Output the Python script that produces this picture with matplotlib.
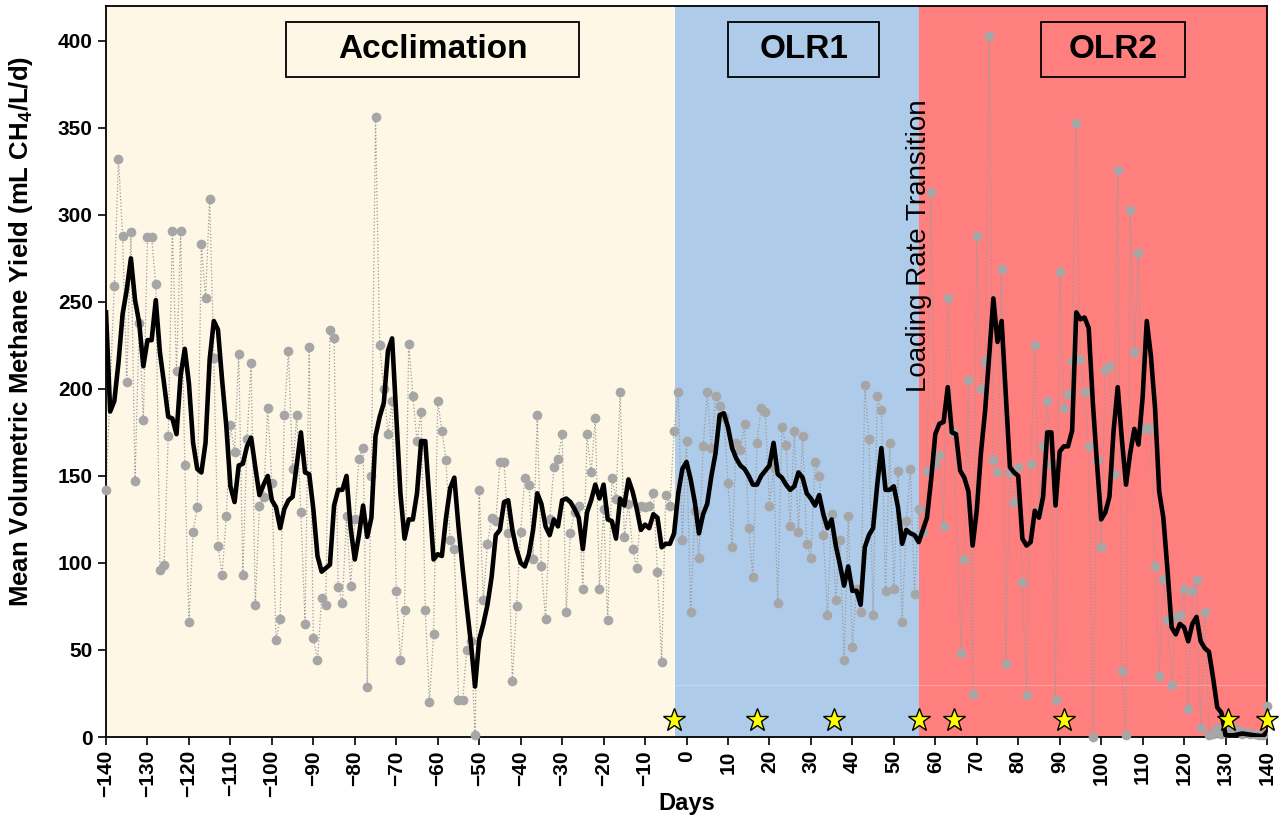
import numpy as np
import matplotlib.pyplot as plt
from matplotlib.patches import Rectangle

plt.rcParams.update({'font.family': 'Liberation Sans',
                     'font.weight': 'bold',
                     'mathtext.fontset': 'custom',
                     'mathtext.rm': 'Liberation Sans:bold',
                     'mathtext.bf': 'Liberation Sans:bold'})

# daily yield (grey points)
days = [-140, -138, -137, -136, -135, -134, -133, -132, -131, -130, -129, -128, -127, -126,
        -125, -124, -123, -122, -121, -120, -119, -118, -117, -116, -115, -114, -113, -112,
        -111, -110, -109, -108, -107, -106, -105, -104, -103, -102, -101, -100, -99, -98,
        -97, -96, -95, -94, -93, -92, -91, -90, -89, -88, -87, -86, -85, -84, -83, -82,
        -81, -80, -79, -78, -77, -76, -75, -74, -73, -72, -71, -70, -69, -68, -67, -66,
        -65, -64, -63, -62, -61, -60, -59, -58, -57, -56, -55, -54, -53, -52, -51, -50,
        -49, -48, -47, -46, -45, -44, -43, -42, -41, -40, -39, -38, -37, -36, -35, -34,
        -33, -32, -31, -30, -29, -28, -27, -26, -25, -24, -23, -22, -21, -20, -19, -18,
        -17, -16, -15, -14, -13, -12, -11, -10, -9, -8, -7, -6, -5, -4, -3, -2, -1, 0,
        1, 2, 3, 4, 5, 6, 7, 8, 9, 10, 11, 12, 13, 14, 15, 16, 17, 18, 19, 20, 21, 22,
        23, 24, 25, 26, 27, 28, 29, 30, 31, 32, 33, 34, 35, 36, 37, 38, 39, 40, 41, 42,
        43, 44, 45, 46, 47, 48, 49, 50, 51, 52, 53, 54, 55, 56, 57, 58, 59, 60, 61, 62,
        63, 64.3, 66.3, 67, 68, 69, 70, 71, 72, 73, 74, 75, 76, 77, 78, 79, 80, 81, 82,
        83, 84, 85, 86, 87, 88, 89, 90, 91, 92, 93, 94, 95, 96, 97, 98, 99, 100, 101,
        102, 103, 104, 105, 106, 107, 108, 109, 110, 111, 112, 113, 114, 115, 116, 117,
        118, 119, 120, 121, 122, 123, 124, 125, 126, 127, 128, 129, 130, 131, 132, 133,
        134, 135, 136, 137, 138, 139, 140]
yield_daily = [142, 259, 332, 288, 204, 290, 147, 238, 182, 287, 287, 260, 96, 99,
               173, 291, 210, 291, 156, 66, 118, 132, 283, 252, 309, 218, 110, 93,
               127, 179, 164, 220, 93, 171, 215, 76, 133, 138, 189, 146, 56, 68,
               185, 222, 154, 185, 129, 65, 224, 57, 44, 80, 76, 234, 229, 86, 77, 127,
               87, 125, 160, 166, 29, 150, 356, 225, 200, 174, 193, 84, 44, 73, 226, 196,
               170, 187, 73, 20, 59, 193, 176, 159, 113, 108, 21, 21, 50, 55, 1, 142,
               79, 111, 126, 124, 158, 158, 117, 32, 75, 118, 149, 145, 102, 185, 98, 68,
               125, 155, 160, 174, 72, 117, 129, 133, 85, 174, 152, 183, 85, 131, 67, 149,
               137, 198, 115, 134, 108, 97, 133, 132, 133, 140, 95, 43, 139, 133, 176, 198, 113, 170,
               72, 130, 103, 167, 198, 166, 196, 190, 184, 146, 109, 169, 165, 180, 120, 92, 169, 189, 187, 133, 155, 77,
               178, 168, 121, 176, 118, 173, 111, 103, 158, 150, 116, 70, 128, 79, 113, 44, 127, 52, 85, 72,
               202, 171, 70, 196, 188, 84, 169, 85, 153, 66, 124, 154, 82, 131, 118, 153, 313, 157, 162, 121,
               252, 175, 48, 102, 205, 25, 288, 200, 216, 403, 159, 152, 269, 42, 152, 135, 155, 89, 24,
               157, 225, 130, 167, 193, 157, 21, 267, 189, 197, 216, 353, 217, 198, 167, 0, 159, 109, 211,
               213, 151, 326, 38, 1, 303, 221, 278, 177, 178, 177, 98, 35, 91, 67, 30,
               69, 70, 85, 16, 84, 90, 5, 72, 1, 2, 5, 2, 3, 5, 5, 4,
               2, 3, 2, 2, 1, 1, 18]

# moving average (black line)
avg_days = list(range(-140, -94)) + list(range(-93, 131)) + [132, 134, 137, 139, 140]
avg_yield = [244, 187, 193, 215, 243, 257, 275, 251, 238, 213, 228, 228, 251, 221, 203,
             184, 183, 174, 208, 223, 203, 169, 154, 152, 169, 217, 239, 234, 205, 179,
             144, 135, 156, 157, 167, 172, 155, 139, 145, 150, 136, 132, 120, 131, 136, 138,
             175, 152, 151, 131, 104, 95, 97, 99, 133, 142, 142, 150, 120, 102, 116, 133,
             115, 126, 173, 184, 192, 222, 229, 185, 140, 114, 125, 125, 140, 170, 170, 136,
             102, 105, 104, 126, 143, 149, 121, 97, 75, 54, 29, 56, 65, 76, 92, 116, 119,
             135, 136, 119, 108, 100, 98, 105, 119, 140, 134, 121, 116, 125, 121, 136, 137,
             135, 131, 126, 108, 129, 136, 145, 137, 145, 125, 124, 114, 137, 133, 148, 141,
             131, 119, 122, 120, 128, 126, 109, 111, 111, 117, 140, 154, 158, 148, 135, 117,
             128, 134, 150, 163, 185, 186, 178, 166, 160, 156, 154, 150, 145, 145, 150, 153,
             156, 169, 151, 149, 145, 142, 144, 152, 149, 140, 137, 133, 139, 128, 120, 125,
             110, 99, 87, 98, 84, 84, 76, 109, 116, 120, 145, 166, 142, 142, 144, 132, 111,
             119, 117, 116, 112, 119, 126, 148, 174, 180, 181, 201, 175, 174, 153, 149, 141,
             110, 130, 163, 187, 219, 252, 227, 239, 197, 155, 152, 150, 114, 110, 112, 130,
             126, 138, 175, 175, 133, 164, 167, 167, 176, 244, 240, 241, 235, 192, 157, 125,
             129, 138, 176, 201, 171, 145, 163, 177, 168, 195, 239, 219, 189, 141, 126, 96,
             63, 59, 65, 63, 55, 65, 69, 55, 51, 49, 34, 17, 14, 1,
             1, 2, 1, 0.5, 3]

# sampling events (stars)
star_days = [-3, 17, 35.5, 56, 64.5, 91, 130.5, 140]
star_level = 10

# phases
phase_names = ['Acclimation', 'OLR1', 'OLR2']
phase_edges = [-140, -2.8, 56, 140]
phase_colors = ['#fff7e6', '#aecbea', '#ff7f7f']
box_x = [(-96.5, -26), (10, 46.5), (85.6, 120.2)]

fig = plt.figure(figsize=(12.82, 8.18), dpi=100)
ax = fig.add_axes([0.0827, 0.099, 0.9056, 0.8937])

for i in range(3):
    ax.axvspan(phase_edges[i], phase_edges[i + 1], color=phase_colors[i], lw=0, zorder=0)
    x0, x1 = box_x[i]
    ax.add_patch(Rectangle((x0, 379), x1 - x0, 32, facecolor=phase_colors[i],
                           edgecolor='black', lw=1.3, zorder=6))
    ax.text((x0 + x1) / 2, 395, phase_names[i], ha='center', va='center',
            fontsize=24, fontweight='bold', zorder=7)
# faint seam in the shaded background
ax.axhline(30, color='white', lw=0.8, alpha=0.25, zorder=1)

ax.plot(days, yield_daily, ls=':', lw=0.9, color='#9a9a9a', zorder=2)
ax.plot(days, yield_daily, 'o', ms=7, color='#a6a6a6', mec='none', zorder=3, clip_on=False)
ax.plot(avg_days, avg_yield, '-', color='black', lw=3.3, zorder=4)
ax.plot(star_days, [star_level] * len(star_days), '*', ms=17, mfc='#ffff00', mec='black',
        mew=1.0, zorder=5, clip_on=False)

ax.text(56, 198, 'Loading Rate Transition', rotation=90, ha='center', va='bottom',
        fontsize=20, fontweight='normal', zorder=7)

ax.set_xlim(-140, 140)
ax.set_ylim(0, 420)
ax.set_xticks(np.arange(-140, 141, 10))
ax.set_xticklabels([f'{t}'.replace('-', '\u2212') for t in range(-140, 141, 10)], rotation=90)
ax.set_yticks(np.arange(0, 401, 50))
ax.tick_params(labelsize=15, direction='out', length=6, width=1.2)
for s in ax.spines.values():
    s.set_linewidth(1.3)

ax.set_xlabel('Days', fontsize=17, fontweight='bold')
ax.xaxis.set_label_coords(0.5, -0.075)
ax.set_ylabel('Mean Volumetric Methane Yield (mL CH$_4$/L/d)', fontsize=18.5, fontweight='bold')
ax.yaxis.set_label_coords(-0.061, 0.555)

plt.savefig('out.png', dpi=100)
